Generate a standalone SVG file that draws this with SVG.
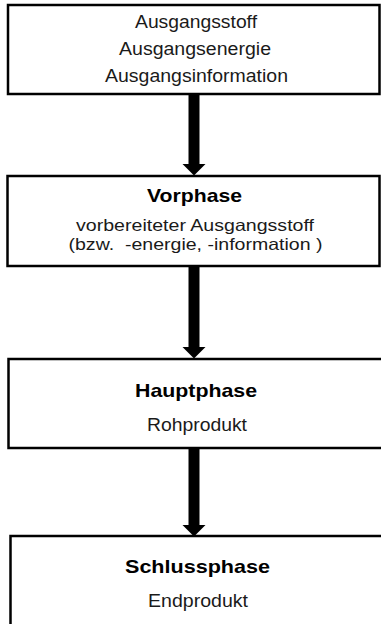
<svg xmlns="http://www.w3.org/2000/svg" width="381" height="624" viewBox="0 0 381 624">
<style>
.box{fill:#fff;stroke:#000;stroke-width:2.5}
.t{font-family:"Liberation Sans",Arial,sans-serif;font-size:17.5px;fill:#1a1a1a;text-anchor:middle}
.s{font-size:16.5px}
.b{font-family:"Liberation Sans",Arial,sans-serif;font-size:19px;font-weight:bold;fill:#000;text-anchor:middle}
.c{stroke:#000;stroke-width:11;fill:none}
</style>
<defs>
<marker id="ah" viewBox="0 0 12 24" markerWidth="12" markerHeight="24" refX="0.5" refY="12" orient="auto" markerUnits="userSpaceOnUse">
<path d="M0,0 L12,12 L0,24 Z" fill="#000"/>
</marker>
</defs>
<rect width="381" height="624" fill="#fff"/>
<g id="connectors">
<line class="c" x1="194" y1="94" x2="194" y2="164" marker-end="url(#ah)"/>
<line class="c" x1="194" y1="266" x2="194" y2="347" marker-end="url(#ah)"/>
<line class="c" x1="194" y1="448" x2="194" y2="525" marker-end="url(#ah)"/>
</g>
<g id="start">
<rect class="box" x="8" y="5" width="371.5" height="89"/>
<text class="t" x="196" y="27.5" textLength="122" lengthAdjust="spacingAndGlyphs">Ausgangsstoff</text>
<text class="t" x="195" y="54.5" textLength="152" lengthAdjust="spacingAndGlyphs">Ausgangsenergie</text>
<text class="t" x="196.5" y="81.5" textLength="183" lengthAdjust="spacingAndGlyphs">Ausgangsinformation</text>
</g>
<g id="vorphase">
<rect class="box" x="7.5" y="176" width="372" height="90"/>
<text class="b" x="194.5" y="201.5" textLength="95" lengthAdjust="spacingAndGlyphs">Vorphase</text>
<text class="t s" x="195" y="230.5" textLength="238" lengthAdjust="spacingAndGlyphs">vorbereiteter Ausgangsstoff</text>
<text class="t s" x="195.5" y="249.5" textLength="254" lengthAdjust="spacingAndGlyphs">(bzw.&#160; -energie, -information )</text>
</g>
<g id="hauptphase">
<rect class="box" x="8.5" y="359" width="375" height="89"/>
<text class="b" x="196" y="396.5" textLength="122" lengthAdjust="spacingAndGlyphs">Hauptphase</text>
<text class="t" x="197" y="430.5" textLength="100" lengthAdjust="spacingAndGlyphs">Rohprodukt</text>
</g>
<g id="schlussphase">
<rect class="box" x="10.5" y="536" width="373" height="92"/>
<text class="b" x="197.5" y="573" textLength="145" lengthAdjust="spacingAndGlyphs">Schlussphase</text>
<text class="t" x="198" y="606.5" textLength="100" lengthAdjust="spacingAndGlyphs">Endprodukt</text>
</g>
</svg>
